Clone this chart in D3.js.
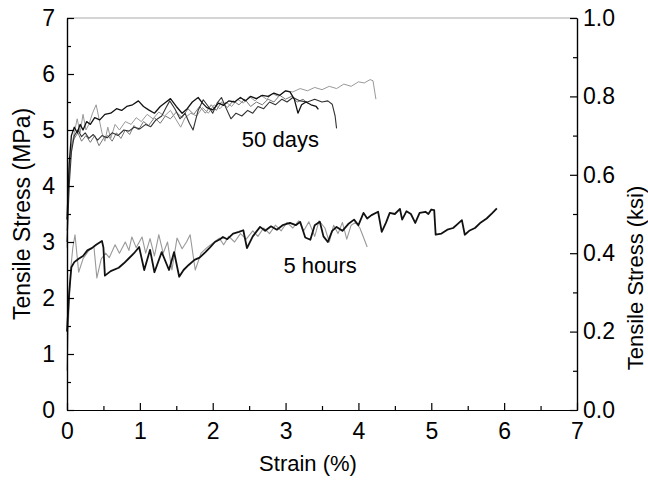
<!DOCTYPE html>
<html>
<head>
<meta charset="utf-8">
<script src="https://cdn.jsdelivr.net/npm/d3@7"></script>
<style>
  body { margin: 0; background: #fff; }
  text { font-family: "Liberation Sans", Arial, sans-serif; fill: #000; }
</style>
</head>
<body>
<svg id="chart" width="648" height="480"></svg>
<script>
// strain (%) / tensile stress (MPa) pairs
var days50Black = [[0,3.4],[0.03,4.4],[0.06,4.9],[0.1,5.05],[0.14,4.95],[0.18,5.1],[0.22,5.0],[0.27,5.15],[0.32,5.1],[0.38,5.22],[0.45,5.18],[0.52,5.28],[0.6,5.3],[0.68,5.38],[0.75,5.35],[0.82,5.42],[0.9,5.45],[0.98,5.52],[1.05,5.42],[1.12,5.36],[1.2,5.3],[1.28,5.42],[1.36,5.5],[1.42,5.56],[1.5,5.42],[1.58,5.3],[1.65,5.38],[1.72,5.5],[1.8,5.58],[1.86,5.48],[1.92,5.4],[2.0,5.36],[2.08,5.48],[2.15,5.44],[2.22,5.52],[2.3,5.5],[2.38,5.58],[2.45,5.52],[2.52,5.6],[2.6,5.56],[2.68,5.62],[2.76,5.6],[2.84,5.66],[2.92,5.62],[3.0,5.7],[3.06,5.68],[3.12,5.55],[3.17,5.3],[3.22,5.45],[3.28,5.5],[3.35,5.45],[3.42,5.42],[3.45,5.37]];
var days50Dark = [[0,3.0],[0.03,4.0],[0.06,4.6],[0.1,4.9],[0.15,5.0],[0.2,4.88],[0.25,4.95],[0.3,4.85],[0.36,4.92],[0.42,4.82],[0.48,4.9],[0.55,4.86],[0.62,4.95],[0.7,4.9],[0.78,5.0],[0.85,4.98],[0.92,5.05],[1.0,5.02],[1.08,5.1],[1.15,5.06],[1.22,5.18],[1.3,5.25],[1.36,5.4],[1.41,5.52],[1.48,5.38],[1.55,5.2],[1.62,5.3],[1.68,5.12],[1.73,5.0],[1.8,5.35],[1.87,5.54],[1.94,5.42],[2.0,5.3],[2.06,5.48],[2.12,5.58],[2.18,5.4],[2.25,5.2],[2.32,5.3],[2.4,5.25],[2.48,5.35],[2.55,5.3],[2.62,5.42],[2.7,5.38],[2.78,5.5],[2.86,5.45],[2.95,5.55],[3.02,5.5],[3.1,5.58],[3.2,5.52],[3.3,5.5],[3.4,5.55],[3.5,5.5],[3.58,5.52],[3.64,5.46],[3.68,5.25],[3.7,5.03]];
var days50Gray = [[0,2.9],[0.03,4.2],[0.06,4.7],[0.1,4.95],[0.14,5.2],[0.18,4.95],[0.22,5.28],[0.26,5.0],[0.3,5.1],[0.35,5.3],[0.4,5.45],[0.44,5.2],[0.48,4.95],[0.52,4.8],[0.56,5.05],[0.6,4.85],[0.66,5.1],[0.72,5.0],[0.8,5.15],[0.88,5.1],[0.95,5.22],[1.02,5.15],[1.1,5.28],[1.18,5.2],[1.26,5.32],[1.34,5.25],[1.42,5.35],[1.5,5.18],[1.56,5.05],[1.62,5.22],[1.7,5.3],[1.78,5.25],[1.86,5.4],[1.94,5.3],[2.02,5.45],[2.1,5.38],[2.18,5.5],[2.26,5.42],[2.34,5.55],[2.42,5.48],[2.5,5.6],[2.58,5.52],[2.66,5.62],[2.74,5.55],[2.82,5.65],[2.9,5.6],[3.0,5.7],[3.1,5.68],[3.2,5.74],[3.3,5.7],[3.4,5.76],[3.5,5.72],[3.6,5.78],[3.7,5.74],[3.8,5.82],[3.9,5.78],[4.0,5.86],[4.08,5.84],[4.16,5.9],[4.2,5.88],[4.24,5.55]];
var days50Mid = [[0,3.2],[0.03,4.3],[0.07,4.75],[0.1,4.85],[0.15,4.95],[0.2,4.8],[0.26,4.9],[0.32,4.78],[0.38,4.9],[0.44,4.72],[0.5,4.85],[0.56,4.9],[0.62,4.8],[0.68,4.95],[0.74,4.85],[0.8,5.0],[0.86,4.92],[0.92,5.08],[0.98,5.0],[1.05,5.15],[1.12,5.08],[1.2,5.22],[1.28,5.12],[1.35,5.25],[1.42,5.2],[1.5,5.32],[1.58,5.22],[1.66,5.38],[1.74,5.28],[1.82,5.42],[1.9,5.3],[1.98,5.45],[2.05,5.35],[2.12,5.5],[2.2,5.4],[2.28,5.52],[2.36,5.45],[2.44,5.55],[2.52,5.42],[2.6,5.5],[2.68,5.45],[2.76,5.55],[2.84,5.5],[2.92,5.62],[3.0,5.55],[3.08,5.6],[3.16,5.5],[3.24,5.55],[3.3,5.48]];

var hours5Black = [[0,1.4],[0.03,2.1],[0.06,2.55],[0.1,2.64],[0.16,2.7],[0.22,2.75],[0.28,2.85],[0.34,2.89],[0.4,2.95],[0.48,3.02],[0.5,2.9],[0.52,2.4],[0.6,2.48],[0.71,2.54],[0.78,2.62],[0.85,2.71],[0.92,2.8],[0.99,2.91],[1.06,2.5],[1.14,2.86],[1.2,2.46],[1.3,2.82],[1.4,2.5],[1.47,2.82],[1.54,2.38],[1.6,2.5],[1.67,2.59],[1.75,2.68],[1.82,2.72],[1.9,2.82],[1.96,2.9],[2.03,3.0],[2.1,3.05],[2.14,3.09],[2.2,3.05],[2.28,3.15],[2.36,3.18],[2.42,3.21],[2.47,2.89],[2.55,3.1],[2.65,3.27],[2.72,3.2],[2.8,3.28],[2.88,3.22],[2.96,3.3],[3.06,3.34],[3.14,3.3],[3.2,3.36],[3.27,3.08],[3.34,3.04],[3.4,3.3],[3.47,3.36],[3.52,3.1],[3.58,3.0],[3.64,3.2],[3.7,3.27],[3.78,3.2],[3.86,3.32],[3.94,3.4],[4.0,3.3],[4.07,3.52],[4.12,3.42],[4.18,3.48],[4.27,3.54],[4.32,3.18],[4.38,3.35],[4.43,3.52],[4.5,3.5],[4.57,3.59],[4.6,3.4],[4.66,3.55],[4.72,3.5],[4.78,3.34],[4.84,3.52],[4.92,3.54],[4.96,3.5],[5.0,3.58],[5.04,3.57],[5.06,3.13],[5.14,3.15],[5.22,3.22],[5.3,3.25],[5.36,3.32],[5.42,3.39],[5.46,3.13],[5.52,3.2],[5.6,3.25],[5.68,3.35],[5.76,3.42],[5.84,3.52],[5.9,3.6]];
var hours5Gray = [[0,0.7],[0.02,1.6],[0.05,2.5],[0.08,2.9],[0.11,3.13],[0.16,2.46],[0.22,2.7],[0.3,2.85],[0.37,2.91],[0.41,2.36],[0.47,2.7],[0.53,2.8],[0.58,2.72],[0.66,2.95],[0.72,2.8],[0.8,3.0],[0.85,2.85],[0.89,3.09],[0.95,2.9],[1.03,3.09],[1.08,2.8],[1.14,3.06],[1.2,2.75],[1.26,3.13],[1.32,2.8],[1.38,3.0],[1.44,2.5],[1.51,3.07],[1.58,2.88],[1.64,3.0],[1.69,3.13],[1.76,2.5],[1.84,2.8],[1.92,2.9],[2.0,2.98],[2.09,3.07],[2.15,2.95],[2.22,3.1],[2.3,3.0],[2.38,3.15],[2.46,3.05],[2.55,3.2],[2.62,3.1],[2.7,3.25],[2.78,3.15],[2.86,3.3],[2.94,3.2],[3.02,3.35],[3.1,3.25],[3.18,3.38],[3.25,3.2],[3.32,3.36],[3.4,3.1],[3.46,3.38],[3.54,3.25],[3.6,3.0],[3.66,3.3],[3.72,3.15],[3.78,3.35],[3.84,3.05],[3.9,3.3],[3.96,3.35],[4.02,3.25],[4.08,3.05],[4.12,2.91]];

var strainTicks = [0,1,2,3,4,5,6,7];
var strainMinor = [0.5,1.5,2.5,3.5,4.5,5.5,6.5];
var mpaTicks = [0,1,2,3,4,5,6,7];
var mpaMinor = [0.5,1.5,2.5,3.5,4.5,5.5,6.5];
var ksiTicks = [0,0.2,0.4,0.6,0.8,1.0];
var ksiMinor = [0.1,0.3,0.5,0.7,0.9];

var margin = {top: 18, right: 71, bottom: 70, left: 67};
var width = 648 - margin.left - margin.right;
var height = 480 - margin.top - margin.bottom;

var svg = d3.select('#chart');
var g = svg.append('g').attr('transform', 'translate(' + margin.left + ',' + margin.top + ')');

var x = d3.scaleLinear().domain([0, 7]).range([0, width]);
var y = d3.scaleLinear().domain([0, 7]).range([height, 0]);
var yKsi = d3.scaleLinear().domain([0, 1]).range([height, 0]);

var line = d3.line()
  .x(function(d) { return x(d[0]); })
  .y(function(d) { return y(d[1]); });

// top border, light
g.append('line')
  .attr('x1', 0).attr('x2', width)
  .attr('y1', 0).attr('y2', 0)
  .style('stroke', '#aaa').style('stroke-width', 1);

var curves = [
  {data: days50Mid, color: '#777', w: 1},
  {data: days50Gray, color: '#999', w: 1},
  {data: days50Dark, color: '#333', w: 1.1},
  {data: days50Black, color: '#111', w: 1.3},
  {data: hours5Gray, color: '#999', w: 1.1},
  {data: hours5Black, color: '#111', w: 1.8}
];

curves.forEach(function(c) {
  g.append('path')
    .datum(c.data)
    .attr('d', line)
    .style('fill', 'none')
    .style('stroke', c.color)
    .style('stroke-width', c.w)
    .style('stroke-linejoin', 'round');
});

function styleAxis(sel) {
  sel.selectAll('path.domain').style('stroke', '#000').style('stroke-width', 1.2);
  sel.selectAll('.tick line').style('stroke', '#000').style('stroke-width', 1.2);
  sel.selectAll('.tick text').style('font-size', '23px').style('font-family', '"Liberation Sans", Arial, sans-serif').style('fill', '#000');
}

// minor ticks
g.append('g').attr('transform', 'translate(0,' + height + ')')
  .call(d3.axisBottom(x).tickValues(strainMinor).tickFormat('').tickSizeInner(-4).tickSizeOuter(0))
  .call(styleAxis);
g.append('g')
  .call(d3.axisLeft(y).tickValues(mpaMinor).tickFormat('').tickSizeInner(-4).tickSizeOuter(0))
  .call(styleAxis);
g.append('g').attr('transform', 'translate(' + width + ',0)')
  .call(d3.axisRight(yKsi).tickValues(ksiMinor).tickFormat('').tickSizeInner(-4).tickSizeOuter(0))
  .call(styleAxis);

// major ticks
g.append('g').attr('transform', 'translate(0,' + height + ')')
  .call(d3.axisBottom(x).tickValues(strainTicks).tickFormat(d3.format('d')).tickSizeInner(-7).tickSizeOuter(0).tickPadding(13))
  .call(styleAxis);
g.append('g')
  .call(d3.axisLeft(y).tickValues(mpaTicks).tickFormat(d3.format('d')).tickSizeInner(-7).tickSizeOuter(0).tickPadding(12))
  .call(styleAxis);
g.append('g').attr('transform', 'translate(' + width + ',0)')
  .call(d3.axisRight(yKsi).tickValues(ksiTicks).tickFormat(d3.format('.1f')).tickSizeInner(-7).tickSizeOuter(0).tickPadding(6))
  .call(styleAxis);

// axis titles
svg.append('text')
  .attr('x', 308)
  .attr('y', 471)
  .attr('text-anchor', 'middle')
  .style('font-size', '22px')
  .text('Strain (%)');

svg.append('text')
  .attr('transform', 'translate(30,' + (margin.top + height / 2) + ') rotate(-90)')
  .attr('text-anchor', 'middle')
  .style('font-size', '23px')
  .text('Tensile Stress (MPa)');

svg.append('text')
  .attr('transform', 'translate(643,278) rotate(-90)')
  .attr('text-anchor', 'middle')
  .style('font-size', '22px')
  .text('Tensile Stress (ksi)');

// curve group labels
g.append('text')
  .attr('x', x(2.4)).attr('y', y(4.7))
  .style('font-size', '22px')
  .text('50 days');

g.append('text')
  .attr('x', x(2.97)).attr('y', y(2.45))
  .style('font-size', '22px')
  .text('5 hours');
</script>
</body>
</html>
